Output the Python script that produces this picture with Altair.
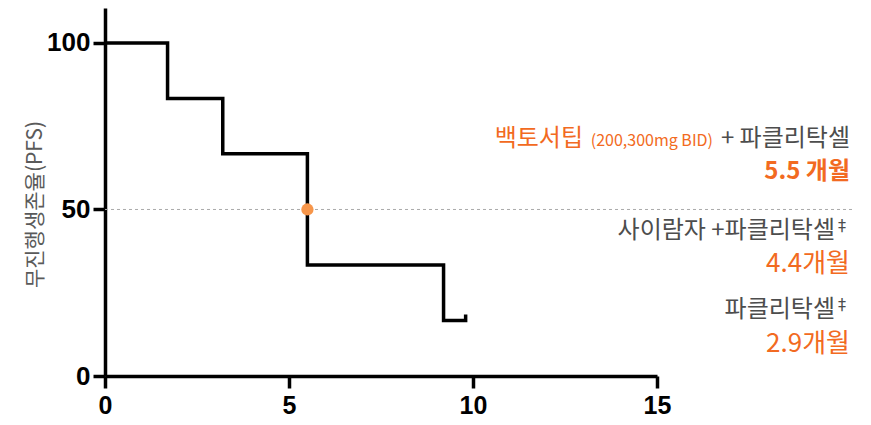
import altair as alt
import pandas as pd

# Kaplan-Meier step data (months, % PFS)
times = [0, 1.7, 3.2, 5.5, 9.2, 9.8, 9.8]
surv = [100, 83.3, 66.7, 33.3, 16.7, 16.7, 18.5]

median_x = [5.5]
median_y = [50]

x_ticks = [0, 5, 10, 15]
y_ticks = [0, 50, 100]

ORANGE = "#F26A21"
DOT = "#F7964A"
GRAY = "#4D4D4D"
KR = "Noto Sans CJK KR"

km = pd.DataFrame({"t": times, "s": surv})
med = pd.DataFrame({"t": median_x, "s": median_y})

xscale = alt.Scale(domain=[0, 15], nice=False, zero=False)
yscale = alt.Scale(domain=[0, 110.5], nice=False)

xaxis = alt.Axis(values=x_ticks, title=None, grid=False, domainColor="black",
                 domainWidth=3.5, tickColor="black", tickWidth=3.5, tickSize=12,
                 labelFont="Liberation Sans", labelFontWeight="bold", labelFontSize=25,
                 labelColor="black", labelPadding=5, labelFlush=False)
yaxis = alt.Axis(values=y_ticks, title="무진행생존율(PFS)", grid=False, domainColor="black",
                 domainWidth=3.5, tickColor="black", tickWidth=3.5, tickSize=12,
                 labelFont="Liberation Sans", labelFontWeight="bold", labelFontSize=26,
                 labelColor="black", labelPadding=3,
                 titleFont=KR, titleFontSize=21, titleFontWeight="normal", titleColor="#5A5A5A",
                 titleX=-70, titleY=196, titleBaseline="middle", titleAngle=270)

line = alt.Chart(km).mark_line(color="black", strokeWidth=3.5, interpolate="step-after",
                               strokeJoin="miter", clip=False).encode(
    x=alt.X("t:Q", scale=xscale, axis=xaxis),
    y=alt.Y("s:Q", scale=yscale, axis=yaxis),
)

ref = alt.Chart(med).mark_rule(color="#AAAAAA", strokeWidth=1, strokeDash=[3, 3]).encode(
    x=alt.value(0), x2=alt.value(747), y=alt.Y("s:Q", scale=yscale)
)

dot = alt.Chart(med).mark_point(filled=True, size=150, color=DOT, opacity=1).encode(
    x=alt.X("t:Q", scale=xscale), y=alt.Y("s:Q", scale=yscale)
)

def txt(text, x, y, color, size, weight="normal", font=KR, align="right"):
    return alt.Chart(med).mark_text(text=text, align=align, baseline="middle", color=color,
                                    fontSize=size, fontWeight=weight, font=font).encode(
        x=alt.value(x), y=alt.value(y))

ann = [
    txt("+ 파클리탁셀", 745, 131, GRAY, 24),
    txt("(200,300mg BID)", 608, 133, ORANGE, 16),
    txt("백토서팁", 478, 131, ORANGE, 24),
    txt("5.5 개월", 745, 164, ORANGE, 24, "bold"),
    txt("사이람자 +파클리탁셀", 730, 223, GRAY, 24),
    txt("‡", 737, 218, GRAY, 16, font="DejaVu Sans", align="center"),
    txt("4.4개월", 745, 256, ORANGE, 26),
    txt("파클리탁셀", 730, 302, GRAY, 24),
    txt("‡", 737, 297, GRAY, 16, font="DejaVu Sans", align="center"),
    txt("2.9개월", 745, 336, ORANGE, 26),
]

chart = alt.layer(ref, line, dot, *ann).properties(
    width=552, height=368,
    background="white",
    autosize=alt.AutoSizeParams(type="none"),
    padding={"left": 97, "top": 0, "right": 206, "bottom": 45},
).configure_view(stroke=None)

chart.save("out.html", embed_options={"renderer": "svg", "actions": False})
